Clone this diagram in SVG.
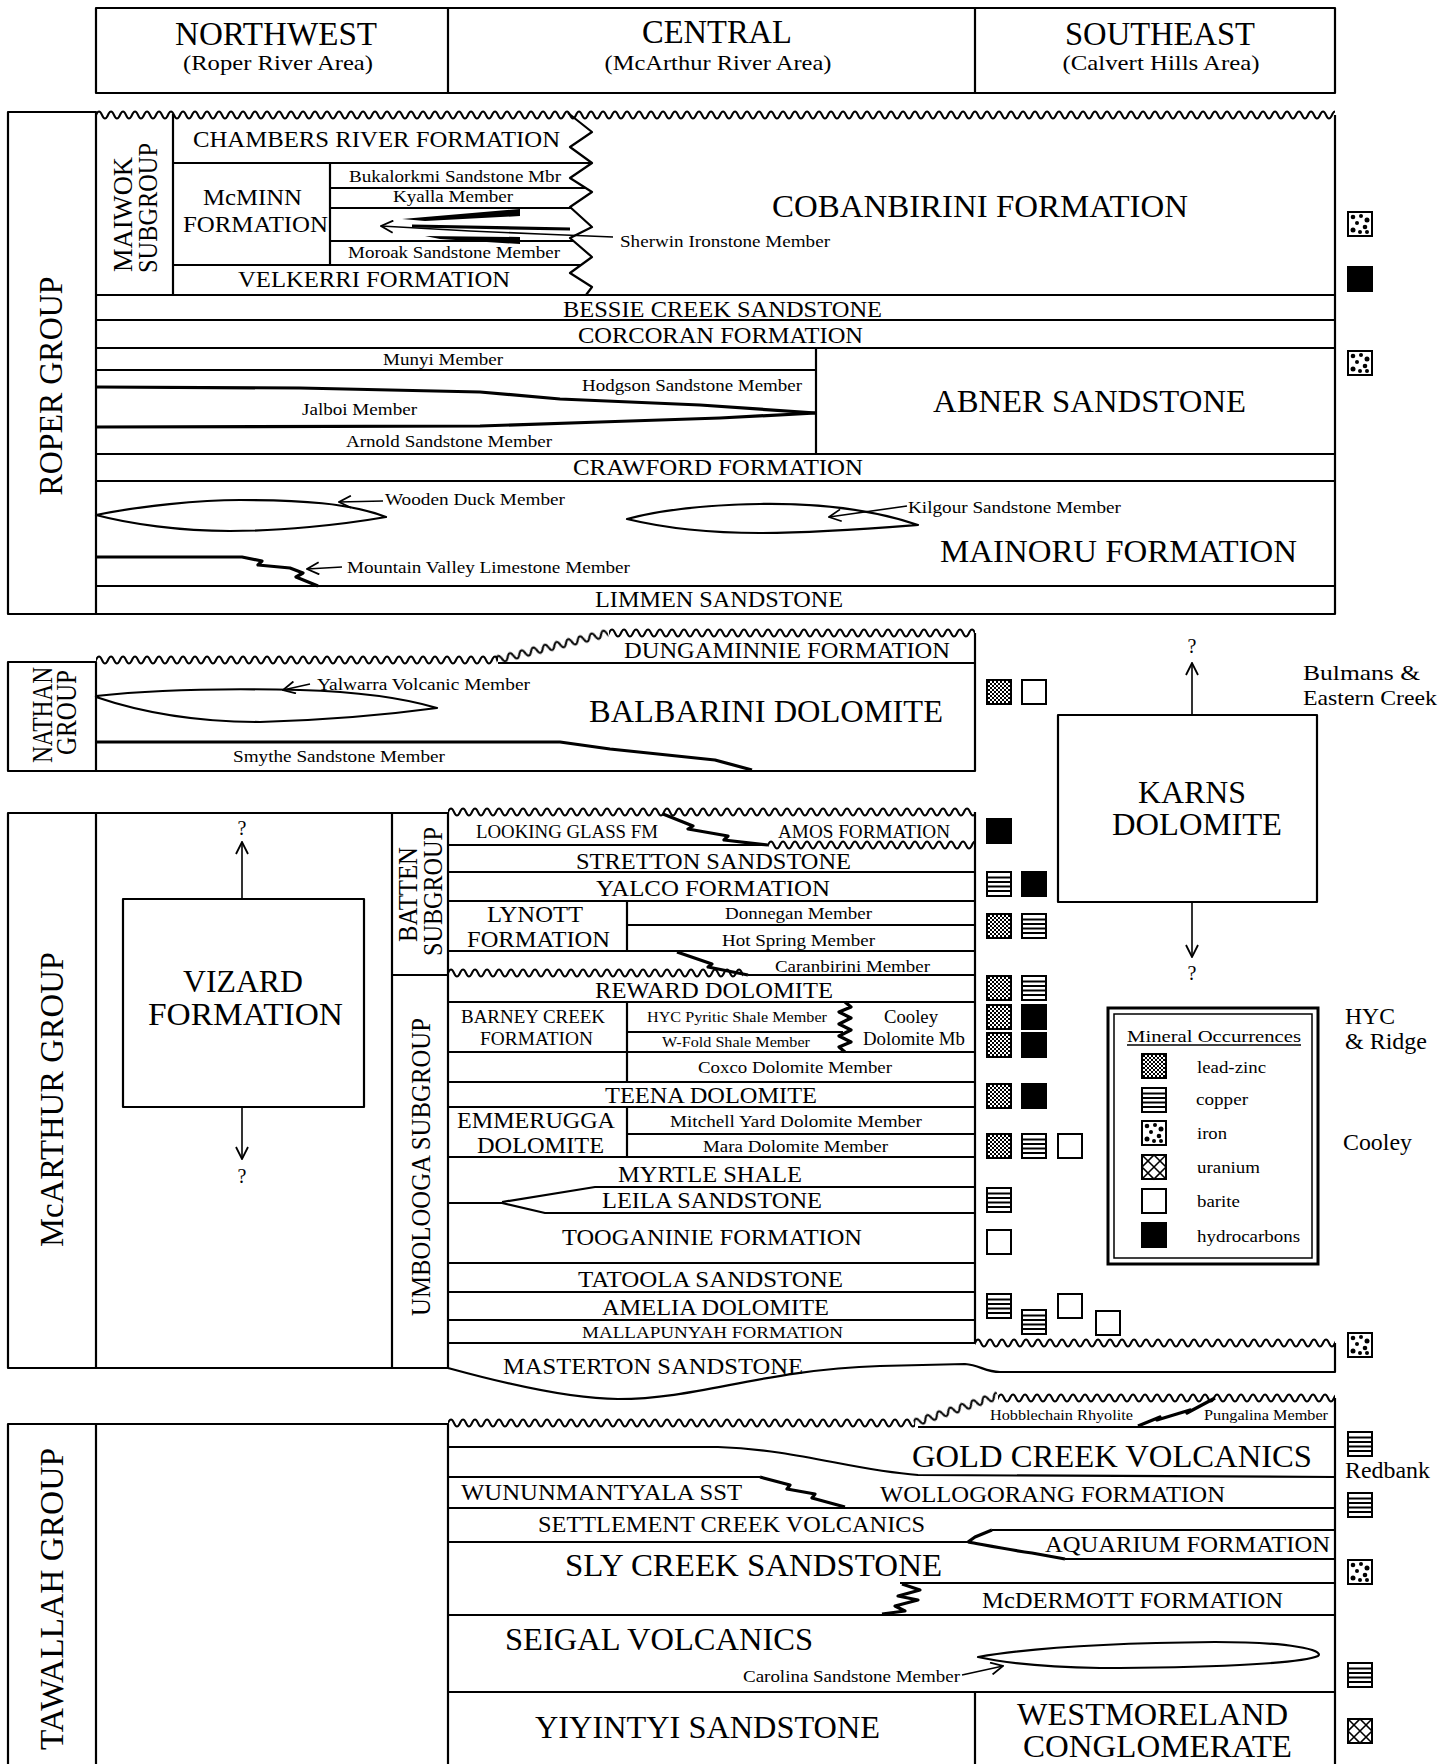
<svg xmlns="http://www.w3.org/2000/svg" width="1453" height="1764" viewBox="0 0 1453 1764">
<style>
.l{fill:none;stroke:#000;stroke-width:2.2;stroke-linejoin:round}
.k{fill:none;stroke:#000;stroke-width:3.2;stroke-linejoin:round}
.w{fill:url(#wv)}
text{font-family:"Liberation Serif","Times New Roman",serif;fill:#000}
.c{text-anchor:middle}
.h{font-size:33px}
.sub{font-size:21px}
.b{font-size:31px}
.m{font-size:23px}
.s{font-size:17px}
.xs{font-size:15px}
.a{fill:none;stroke:#000;stroke-width:1.6;marker-end:url(#ah)}
.q{font-size:20px;text-anchor:middle}
</style>
<defs>
<pattern id="wv" width="12" height="12" patternUnits="userSpaceOnUse"><path d="M-6,6 Q-3,13 0,6 Q3,-1 6,6 Q9,13 12,6 Q15,-1 18,6" fill="none" stroke="#000" stroke-width="2"/></pattern>
<pattern id="chk" width="4" height="4" patternUnits="userSpaceOnUse"><rect width="4" height="4" fill="#fff"/><rect width="2" height="2" fill="#000"/><rect x="2" y="2" width="2" height="2" fill="#000"/></pattern>
<marker id="ah" viewBox="0 0 14 14" refX="13" refY="7" markerWidth="14" markerHeight="14" markerUnits="userSpaceOnUse" orient="auto"><path d="M1,1 L13,7 L1,13" fill="none" stroke="#000" stroke-width="1.8"/></marker>
<g id="pz"><rect x="1" y="1" width="24" height="24" fill="url(#chk)" stroke="#000" stroke-width="2"/></g>
<g id="cu"><rect x="1" y="1" width="24" height="24" fill="#fff" stroke="#000" stroke-width="2"/><path d="M1,6.5H25M1,11H25M1,15.5H25M1,20H25" stroke="#000" stroke-width="2"/></g>
<g id="fe"><rect x="1" y="1" width="24" height="24" fill="#fff" stroke="#000" stroke-width="2"/><g fill="#000"><circle cx="6" cy="6" r="2.3"/><circle cx="14" cy="5" r="2"/><circle cx="20" cy="9" r="2.5"/><circle cx="10" cy="12" r="2"/><circle cx="18" cy="16" r="2.3"/><circle cx="6" cy="19" r="2.5"/><circle cx="13" cy="21" r="2"/><circle cx="20" cy="21" r="2"/></g></g>
<g id="ur"><rect x="1" y="1" width="24" height="24" fill="#fff" stroke="#000" stroke-width="2"/><path d="M13,1 L25,13 L13,25 L1,13Z M1,1 L25,25 M25,1 L1,25" fill="none" stroke="#000" stroke-width="1.6"/></g>
<g id="ba"><rect x="1" y="1" width="24" height="24" fill="#fff" stroke="#000" stroke-width="2"/></g>
<g id="hc"><rect width="26" height="26" fill="#000"/></g>
</defs>

<g id="header">
<rect class="l" x="96" y="8" width="1239" height="85"/>
<path class="l" d="M448,8V93M975,8V93"/>
<text class="c h" x="276" y="45" textLength="202" lengthAdjust="spacingAndGlyphs">NORTHWEST</text>
<text class="c sub" x="278" y="70" textLength="190" lengthAdjust="spacingAndGlyphs">(Roper River Area)</text>
<text class="c h" x="717" y="43" textLength="150" lengthAdjust="spacingAndGlyphs">CENTRAL</text>
<text class="c sub" x="718" y="70" textLength="227" lengthAdjust="spacingAndGlyphs">(McArthur River Area)</text>
<text class="c h" x="1160" y="45" textLength="190" lengthAdjust="spacingAndGlyphs">SOUTHEAST</text>
<text class="c sub" x="1161" y="70" textLength="197" lengthAdjust="spacingAndGlyphs">(Calvert Hills Area)</text>
</g>

<g id="roper-group">
<rect class="l" x="8" y="112" width="88" height="502"/>
<rect class="w" width="1239" height="12" transform="translate(96,109)"/>
<path class="l" d="M1335,115V614H96M173,114V295M173,163H592M330,163V265M330,188H586M330,208H571M330,241H574M173,265H581M96,295H1335M96,320H1335M96,348H1335M96,370H816M816,348V454M96,454H1335M96,481H1335M96,586H1335"/>
<path class="l" d="M568,113 L592,132 L570,147 L592,163 L570,178 L592,192 L570,207 L592,227 L570,238 L592,257 L570,273 L592,287 L586,295"/>
<path d="M402,219 L520,209 L520,216 L425,221Z M425,236 L520,237 L520,244 L440,239Z" fill="#000"/>
<path class="k" d="M412,226 L570,229"/>
<path class="k" d="M96,387 L300,388 L480,392 L560,399 L700,405 L816,413"/>
<path class="k" d="M96,427 L480,426 L600,422 L720,418 L816,413"/>
<path class="l" d="M96,515 C140,506 200,500 240,500 C300,500 350,503 386,517 C340,525 280,531 230,531 C180,531 130,524 96,515Z"/>
<path class="l" d="M627,519 C660,510 700,505 760,504 C830,503 880,512 918,525 C880,528 820,533 760,533 C700,533 660,527 627,519Z"/>
<path class="k" d="M96,557 H242 L262,561 L258,565 L290,568 L303,573 L296,577 L318,586"/>
<text class="c" style="font-size:33px" transform="translate(62,386) rotate(-90)" textLength="219" lengthAdjust="spacingAndGlyphs">ROPER GROUP</text>
<text class="c" style="font-size:28px" transform="translate(132,214.5) rotate(-90)" textLength="115" lengthAdjust="spacingAndGlyphs">MAIWOK</text>
<text class="c" style="font-size:28px" transform="translate(157,208) rotate(-90)" textLength="130" lengthAdjust="spacingAndGlyphs">SUBGROUP</text>
<text class="c m" x="376.5" y="147" textLength="367" lengthAdjust="spacingAndGlyphs">CHAMBERS RIVER FORMATION</text>
<text class="c s" x="455" y="182" textLength="212" lengthAdjust="spacingAndGlyphs">Bukalorkmi Sandstone Mbr</text>
<text class="c s" x="453" y="202" textLength="120" lengthAdjust="spacingAndGlyphs">Kyalla Member</text>
<text class="c m" x="252.5" y="205" textLength="99" lengthAdjust="spacingAndGlyphs">McMINN</text>
<text class="c m" x="255.5" y="232" textLength="145" lengthAdjust="spacingAndGlyphs">FORMATION</text>
<text class="c s" x="454" y="258" textLength="212" lengthAdjust="spacingAndGlyphs">Moroak Sandstone Member</text>
<text class="c m" x="374" y="287" textLength="272" lengthAdjust="spacingAndGlyphs">VELKERRI FORMATION</text>
<text class="s" x="620" y="247" textLength="210" lengthAdjust="spacingAndGlyphs">Sherwin Ironstone Member</text>
<text class="c b" x="980" y="217" textLength="416" lengthAdjust="spacingAndGlyphs">COBANBIRINI FORMATION</text>
<text class="c m" x="722.5" y="317" textLength="319" lengthAdjust="spacingAndGlyphs">BESSIE CREEK SANDSTONE</text>
<text class="c m" x="720.5" y="343" textLength="285" lengthAdjust="spacingAndGlyphs">CORCORAN FORMATION</text>
<text class="c s" x="443" y="365" textLength="120" lengthAdjust="spacingAndGlyphs">Munyi Member</text>
<text class="c s" x="692" y="391" textLength="220" lengthAdjust="spacingAndGlyphs">Hodgson Sandstone Member</text>
<text class="c s" x="359.5" y="415" textLength="115" lengthAdjust="spacingAndGlyphs">Jalboi Member</text>
<text class="c s" x="449" y="447" textLength="206" lengthAdjust="spacingAndGlyphs">Arnold Sandstone Member</text>
<text class="c b" x="1089.5" y="412" textLength="313" lengthAdjust="spacingAndGlyphs">ABNER SANDSTONE</text>
<text class="c m" x="718" y="475" textLength="290" lengthAdjust="spacingAndGlyphs">CRAWFORD FORMATION</text>
<text class="s" x="385" y="505" textLength="180" lengthAdjust="spacingAndGlyphs">Wooden Duck Member</text>
<text class="s" x="908" y="513" textLength="213" lengthAdjust="spacingAndGlyphs">Kilgour Sandstone Member</text>
<text class="c b" x="1118.5" y="562" textLength="357" lengthAdjust="spacingAndGlyphs">MAINORU FORMATION</text>
<text class="s" x="347" y="573" textLength="283" lengthAdjust="spacingAndGlyphs">Mountain Valley Limestone Member</text>
<text class="c m" x="719" y="607" textLength="248" lengthAdjust="spacingAndGlyphs">LIMMEN SANDSTONE</text>
</g>

<g id="nathan-group">
<rect class="l" x="8" y="662" width="88" height="109"/>
<rect class="w" width="402" height="12" transform="translate(96,654)"/>
<rect class="w" width="115" height="12" transform="translate(496,660) rotate(-13.5) translate(0,-6)"/>
<rect class="w" width="366" height="12" transform="translate(609,627)"/>
<path class="l" d="M96,771H975V633M498,663H975"/>
<path class="l" d="M96,696 C150,690 220,688 300,690 C370,692 410,700 437,708 C400,713 330,720 260,722 C190,722 140,712 96,697Z"/>
<path class="k" d="M96,742 H560 L610,749 L715,760 L752,770"/>
<text class="c" style="font-size:29px" transform="translate(52,715) rotate(-90)" textLength="96" lengthAdjust="spacingAndGlyphs">NATHAN</text>
<text class="c" style="font-size:29px" transform="translate(76,712.5) rotate(-90)" textLength="85" lengthAdjust="spacingAndGlyphs">GROUP</text>
<text class="c m" x="787" y="658" textLength="326" lengthAdjust="spacingAndGlyphs">DUNGAMINNIE FORMATION</text>
<text class="s" x="317" y="690" textLength="213" lengthAdjust="spacingAndGlyphs">Yalwarra Volcanic Member</text>
<text class="c b" x="766" y="722" textLength="354" lengthAdjust="spacingAndGlyphs">BALBARINI DOLOMITE</text>
<text class="c s" x="339" y="762" textLength="212" lengthAdjust="spacingAndGlyphs">Smythe Sandstone Member</text>
</g>

<g id="mcarthur-group">
<rect class="l" x="8" y="813" width="88" height="555"/>
<rect class="w" width="527" height="12" transform="translate(448,806)"/>
<rect class="w" width="207" height="12" transform="translate(768,839)"/>
<rect class="w" width="295" height="12" transform="translate(448,967)"/>
<rect class="w" width="360" height="12" transform="translate(975,1337)"/>
<path class="l" d="M96,813H448M96,1368H448M392,813V1368M448,812V1368M392,975H448M975,812V1343"/>
<path class="l" d="M448,845H768M448,872H975M448,901H975M627,925H975M448,951H975M748,975H975M448,1002H975M627,1032H843M448,1052H975M448,1082H975M448,1107H975M627,1134H975M448,1157H975M448,1203H502M502,1202L595,1187H975M502,1203L545,1213H975M448,1263H975M448,1292H975M448,1320H975M448,1343H975M627,901V951M627,1002V1082M627,1107V1157"/>
<path class="k" d="M663,814 L693,826 L688,829 L728,836 L724,840 L768,845"/>
<path class="k" d="M677,952 L712,964 L708,967 L748,975"/>
<path class="k" d="M845,1002 L851,1007 L839,1012 L851,1018 L839,1024 L851,1030 L839,1036 L851,1042 L839,1047 L845,1052"/>
<path class="l" d="M448,1368 C470,1374 560,1399 618,1399 C700,1399 760,1370 880,1366 L965,1364 C980,1365 985,1372 1000,1372 H1335 V1343"/>
<text class="c" style="font-size:33px" transform="translate(63,1099.5) rotate(-90)" textLength="295" lengthAdjust="spacingAndGlyphs">McARTHUR GROUP</text>
<text class="c" style="font-size:28px" transform="translate(417,894.5) rotate(-90)" textLength="95" lengthAdjust="spacingAndGlyphs">BATTEN</text>
<text class="c" style="font-size:28px" transform="translate(442,891.5) rotate(-90)" textLength="129" lengthAdjust="spacingAndGlyphs">SUBGROUP</text>
<text class="c" style="font-size:27px" transform="translate(430,1167) rotate(-90)" textLength="298" lengthAdjust="spacingAndGlyphs">UMBOLOOGA SUBGROUP</text>
<text class="c" style="font-size:19px" x="567" y="838" textLength="182" lengthAdjust="spacingAndGlyphs">LOOKING GLASS FM</text>
<text class="c" style="font-size:19px" x="864" y="838" textLength="172" lengthAdjust="spacingAndGlyphs">AMOS FORMATION</text>
<text class="c m" x="713.5" y="869" textLength="275" lengthAdjust="spacingAndGlyphs">STRETTON SANDSTONE</text>
<text class="c m" x="713" y="896" textLength="234" lengthAdjust="spacingAndGlyphs">YALCO FORMATION</text>
<text class="c m" x="535" y="922" textLength="96" lengthAdjust="spacingAndGlyphs">LYNOTT</text>
<text class="c m" x="538.5" y="947" textLength="143" lengthAdjust="spacingAndGlyphs">FORMATION</text>
<text class="c s" x="798.5" y="919" textLength="147" lengthAdjust="spacingAndGlyphs">Donnegan Member</text>
<text class="c s" x="798.5" y="946" textLength="153" lengthAdjust="spacingAndGlyphs">Hot Spring Member</text>
<text class="c s" x="852.5" y="972" textLength="155" lengthAdjust="spacingAndGlyphs">Caranbirini Member</text>
<text class="c m" x="714" y="998" textLength="238" lengthAdjust="spacingAndGlyphs">REWARD DOLOMITE</text>
<text class="c" style="font-size:18px" x="533" y="1023" textLength="144" lengthAdjust="spacingAndGlyphs">BARNEY CREEK</text>
<text class="c" style="font-size:18px" x="536.5" y="1045" textLength="113" lengthAdjust="spacingAndGlyphs">FORMATION</text>
<text class="c xs" x="737" y="1022" textLength="180" lengthAdjust="spacingAndGlyphs">HYC Pyritic Shale Member</text>
<text class="c xs" x="736" y="1047" textLength="148" lengthAdjust="spacingAndGlyphs">W-Fold Shale Member</text>
<text class="c" style="font-size:18px" x="911" y="1023" textLength="54" lengthAdjust="spacingAndGlyphs">Cooley</text>
<text class="c" style="font-size:18px" x="914" y="1045" textLength="102" lengthAdjust="spacingAndGlyphs">Dolomite Mb</text>
<text class="c s" x="795" y="1073" textLength="194" lengthAdjust="spacingAndGlyphs">Coxco Dolomite Member</text>
<text class="c m" x="711" y="1103" textLength="212" lengthAdjust="spacingAndGlyphs">TEENA DOLOMITE</text>
<text class="c m" x="536" y="1128" textLength="158" lengthAdjust="spacingAndGlyphs">EMMERUGGA</text>
<text class="c m" x="540.5" y="1153" textLength="127" lengthAdjust="spacingAndGlyphs">DOLOMITE</text>
<text class="c s" x="796" y="1127" textLength="252" lengthAdjust="spacingAndGlyphs">Mitchell Yard Dolomite Member</text>
<text class="c s" x="795.5" y="1152" textLength="185" lengthAdjust="spacingAndGlyphs">Mara Dolomite Member</text>
<text class="c m" x="710" y="1182" textLength="184" lengthAdjust="spacingAndGlyphs">MYRTLE SHALE</text>
<text class="c m" x="712" y="1208" textLength="220" lengthAdjust="spacingAndGlyphs">LEILA SANDSTONE</text>
<text class="c m" x="712" y="1245" textLength="300" lengthAdjust="spacingAndGlyphs">TOOGANINIE FORMATION</text>
<text class="c m" x="710.5" y="1287" textLength="265" lengthAdjust="spacingAndGlyphs">TATOOLA SANDSTONE</text>
<text class="c m" x="715.5" y="1315" textLength="227" lengthAdjust="spacingAndGlyphs">AMELIA DOLOMITE</text>
<text class="c s" x="712.5" y="1338" textLength="261" lengthAdjust="spacingAndGlyphs">MALLAPUNYAH FORMATION</text>
<text class="c m" x="653" y="1374" textLength="300" lengthAdjust="spacingAndGlyphs">MASTERTON SANDSTONE</text>
</g>

<g id="vizard-formation">
<rect class="l" x="123" y="899" width="241" height="208"/>
<text class="c b" x="243" y="992" textLength="120" lengthAdjust="spacingAndGlyphs">VIZARD</text>
<text class="c b" x="245.5" y="1025" textLength="195" lengthAdjust="spacingAndGlyphs">FORMATION</text>
<text class="q" x="242" y="835">?</text>
<text class="q" x="242" y="1183">?</text>
</g>

<g id="karns-dolomite">
<rect class="l" x="1058" y="715" width="259" height="187"/>
<text class="c b" x="1192" y="803" textLength="108" lengthAdjust="spacingAndGlyphs">KARNS</text>
<text class="c b" x="1197" y="835" textLength="170" lengthAdjust="spacingAndGlyphs">DOLOMITE</text>
<text class="q" x="1192" y="653">?</text>
<text class="q" x="1192" y="980">?</text>
</g>

<g id="tawallah-group">
<rect class="l" x="8" y="1424" width="88" height="350"/>
<rect class="w" width="467" height="12" transform="translate(448,1417)"/>
<rect class="w" width="88" height="12" transform="translate(914,1423) rotate(-18) translate(0,-6)"/>
<rect class="w" width="337" height="12" transform="translate(998,1392)"/>
<path class="l" d="M96,1424H448V1770M1335,1398V1770M918,1427H1335M448,1447H718C800,1450 850,1470 918,1475L1335,1477M448,1477H760M448,1508H1335M448,1542H968M992,1530H1335M1065,1559H1335M900,1583H1335M448,1615H1335M448,1692H1335M975,1692V1770"/>
<path class="k" d="M1138,1426 L1160,1417 L1157,1420 L1190,1410 L1187,1413 L1215,1398"/>
<path class="k" d="M760,1477 L790,1485 L787,1489 L815,1494 L812,1498 L845,1507"/>
<path class="k" d="M968,1542 L975,1537 L992,1530 M968,1542 C990,1546 1010,1550 1032,1553 L1065,1559"/>
<path class="k" d="M882,1614 L905,1611 L895,1606 L918,1600 L898,1596 L920,1590 L902,1584"/>
<path class="l" d="M978,1657 C1030,1648 1100,1643 1215,1642 C1290,1642 1325,1650 1318,1656 C1300,1664 1200,1668 1100,1668 C1040,1667 1000,1662 978,1657Z"/>
<text class="c" style="font-size:33px" transform="translate(63,1599) rotate(-90)" textLength="302" lengthAdjust="spacingAndGlyphs">TAWALLAH GROUP</text>
<text class="c xs" x="1061.5" y="1420" textLength="143" lengthAdjust="spacingAndGlyphs">Hobblechain Rhyolite</text>
<text class="c xs" x="1266" y="1420" textLength="124" lengthAdjust="spacingAndGlyphs">Pungalina Member</text>
<text class="c b" x="1112" y="1467" textLength="400" lengthAdjust="spacingAndGlyphs">GOLD CREEK VOLCANICS</text>
<text class="c m" x="601.5" y="1500" textLength="281" lengthAdjust="spacingAndGlyphs">WUNUNMANTYALA SST</text>
<text class="c m" x="1052.5" y="1502" textLength="345" lengthAdjust="spacingAndGlyphs">WOLLOGORANG FORMATION</text>
<text class="c m" x="731.5" y="1532" textLength="387" lengthAdjust="spacingAndGlyphs">SETTLEMENT CREEK VOLCANICS</text>
<text class="c m" x="1187.5" y="1552" textLength="285" lengthAdjust="spacingAndGlyphs">AQUARIUM FORMATION</text>
<text class="c b" x="753.5" y="1576" textLength="377" lengthAdjust="spacingAndGlyphs">SLY CREEK SANDSTONE</text>
<text class="c m" x="1132.5" y="1608" textLength="301" lengthAdjust="spacingAndGlyphs">McDERMOTT FORMATION</text>
<text class="c b" x="659" y="1650" textLength="308" lengthAdjust="spacingAndGlyphs">SEIGAL VOLCANICS</text>
<text class="c" style="font-size:16px" x="851.5" y="1682" textLength="217" lengthAdjust="spacingAndGlyphs">Carolina Sandstone Member</text>
<text class="c b" x="707.5" y="1738" textLength="345" lengthAdjust="spacingAndGlyphs">YIYINTYI SANDSTONE</text>
<text class="c b" x="1152.5" y="1725" textLength="271" lengthAdjust="spacingAndGlyphs">WESTMORELAND</text>
<text class="c b" x="1157.5" y="1757" textLength="269" lengthAdjust="spacingAndGlyphs">CONGLOMERATE</text>
</g>

<g id="mineral-occurrences">
<use href="#fe" x="1347" y="211"/>
<use href="#hc" x="1347" y="266"/>
<use href="#fe" x="1347" y="350"/>
<use href="#pz" x="986" y="679"/><use href="#ba" x="1021" y="679"/>
<use href="#hc" x="986" y="818"/>
<use href="#cu" x="986" y="871"/><use href="#hc" x="1021" y="871"/>
<use href="#pz" x="986" y="913"/><use href="#cu" x="1021" y="913"/>
<use href="#pz" x="986" y="975"/><use href="#cu" x="1021" y="975"/>
<use href="#pz" x="986" y="1004"/><use href="#hc" x="1021" y="1004"/>
<use href="#pz" x="986" y="1032"/><use href="#hc" x="1021" y="1032"/>
<use href="#pz" x="986" y="1083"/><use href="#hc" x="1021" y="1083"/>
<use href="#pz" x="986" y="1133"/><use href="#cu" x="1021" y="1133"/><use href="#ba" x="1057" y="1133"/>
<use href="#cu" x="986" y="1187"/>
<use href="#ba" x="986" y="1229"/>
<use href="#cu" x="986" y="1293"/><use href="#cu" x="1021" y="1309"/><use href="#ba" x="1057" y="1293"/><use href="#ba" x="1095" y="1310"/>
<use href="#fe" x="1347" y="1332"/>
<use href="#cu" x="1347" y="1431"/>
<use href="#cu" x="1347" y="1492"/>
<use href="#fe" x="1347" y="1559"/>
<use href="#cu" x="1347" y="1662"/>
<use href="#ur" x="1347" y="1718"/>
</g>

<g id="deposit-labels">
<text style="font-size:22px" x="1303" y="680" textLength="117" lengthAdjust="spacingAndGlyphs">Bulmans &amp;</text>
<text style="font-size:22px" x="1303" y="705" textLength="134" lengthAdjust="spacingAndGlyphs">Eastern Creek</text>
<text style="font-size:23px" x="1345" y="1024" textLength="50" lengthAdjust="spacingAndGlyphs">HYC</text>
<text style="font-size:23px" x="1345" y="1049" textLength="82" lengthAdjust="spacingAndGlyphs">&amp; Ridge</text>
<text style="font-size:23px" x="1343" y="1150" textLength="69" lengthAdjust="spacingAndGlyphs">Cooley</text>
<text style="font-size:23px" x="1345" y="1478" textLength="85" lengthAdjust="spacingAndGlyphs">Redbank</text>
</g>

<g id="legend">
<rect x="1108" y="1008" width="210" height="256" fill="#fff" stroke="#000" stroke-width="3"/>
<rect x="1114" y="1014" width="198" height="244" fill="none" stroke="#000" stroke-width="1.5"/>
<text class="c" style="font-size:17px" x="1214" y="1042" textLength="174" lengthAdjust="spacingAndGlyphs">Mineral Occurrences</text>
<path d="M1127,1045H1301" stroke="#000" stroke-width="1.3"/>
<use href="#pz" x="1141" y="1053"/>
<use href="#cu" x="1141" y="1087"/>
<use href="#fe" x="1141" y="1120"/>
<use href="#ur" x="1141" y="1154"/>
<use href="#ba" x="1141" y="1188"/>
<use href="#hc" x="1141" y="1222"/>
<text style="font-size:16px" x="1197" y="1073" textLength="69" lengthAdjust="spacingAndGlyphs">lead-zinc</text>
<text style="font-size:16px" x="1196" y="1105" textLength="52" lengthAdjust="spacingAndGlyphs">copper</text>
<text style="font-size:16px" x="1197" y="1139" textLength="30" lengthAdjust="spacingAndGlyphs">iron</text>
<text style="font-size:16px" x="1197" y="1173" textLength="63" lengthAdjust="spacingAndGlyphs">uranium</text>
<text style="font-size:16px" x="1197" y="1207" textLength="43" lengthAdjust="spacingAndGlyphs">barite</text>
<text style="font-size:16px" x="1197" y="1242" textLength="103" lengthAdjust="spacingAndGlyphs">hydrocarbons</text>
</g>

<g id="connectors">
<path class="a" d="M242,899V842"/>
<path class="a" d="M242,1107V1159"/>
<path class="a" d="M1192,715V663"/>
<path class="a" d="M1192,902V957"/>
<path class="a" d="M383,501L339,502"/>
<path class="a" d="M907,506L829,517"/>
<path class="a" d="M310,684L283,690"/>
<path class="a" d="M342,567L307,569"/>
<path class="a" d="M962,1675L1003,1666"/>
<path class="a" d="M613,237L540,234L470,231L381,226"/>
</g>
</svg>
